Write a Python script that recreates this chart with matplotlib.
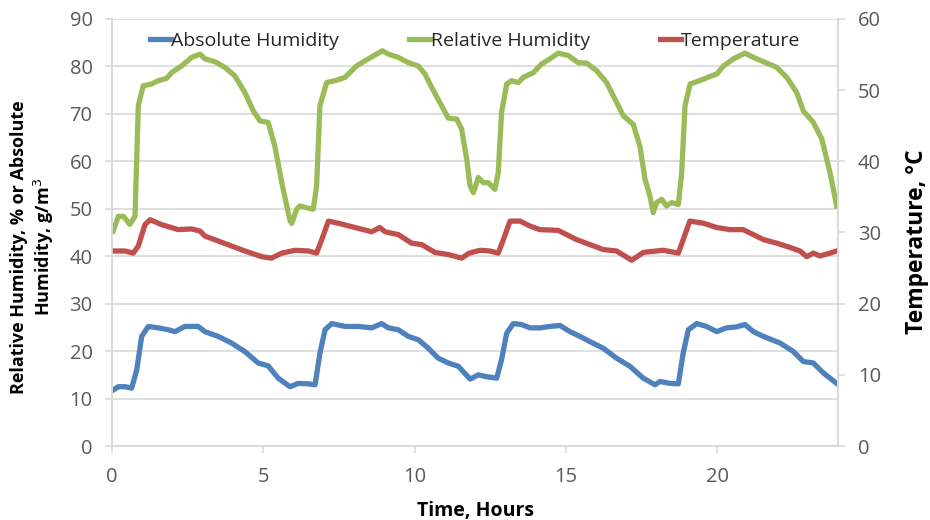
import matplotlib
matplotlib.use("Agg")
import matplotlib.pyplot as plt

plt.rcParams["font.family"] = ["Open Sans", "DejaVu Sans"]

# Relative humidity, %
rh_time = [0.04, 0.21, 0.38, 0.59, 0.76, 0.87, 1.03, 1.31, 1.53, 1.81, 1.97, 2.30,
           2.63, 2.91, 3.07, 3.40, 3.73, 4.06, 4.39, 4.67, 4.89, 5.16, 5.38, 5.61,
           5.88, 5.94, 6.10, 6.21, 6.43, 6.65, 6.76, 6.87, 7.09, 7.37, 7.70, 8.08,
           8.47, 8.93, 9.13, 9.46, 9.79, 10.12, 10.34, 10.56, 10.89, 11.11, 11.39,
           11.55, 11.72, 11.83, 11.94, 12.10, 12.27, 12.43, 12.65, 12.76, 12.87,
           13.04, 13.20, 13.42, 13.59, 13.92, 14.19, 14.47, 14.74, 15.07, 15.40,
           15.68, 16.01, 16.34, 16.67, 16.89, 17.22, 17.44, 17.61, 17.77, 17.88,
           17.99, 18.16, 18.32, 18.49, 18.71, 18.82, 18.93, 19.10, 19.32, 19.54,
           19.76, 19.98, 20.20, 20.53, 20.91, 21.19, 21.63, 21.96, 22.29, 22.62,
           22.84, 23.17, 23.45, 23.72, 23.94]
rh = [45.3, 48.4, 48.4, 46.7, 48.4, 71.7, 75.9, 76.3, 77.0, 77.5, 78.7, 80.1,
      81.9, 82.6, 81.6, 81.0, 79.8, 78.0, 74.5, 70.6, 68.5, 68.2, 63.2, 55.5,
      47.5, 46.9, 49.9, 50.6, 50.2, 49.9, 54.8, 71.7, 76.6, 77.0, 77.7, 80.1,
      81.6, 83.3, 82.6, 81.9, 80.8, 80.1, 78.4, 75.6, 71.7, 69.1, 68.9,
      66.8, 60.4, 54.8, 53.4, 56.6, 55.5, 55.5, 54.1, 57.6, 70.3,
      76.3, 77.0, 76.6, 77.7, 78.7, 80.5, 81.6, 82.8, 82.3, 80.8,
      80.7, 79.1, 76.6, 72.4, 69.6, 67.8, 63.2, 56.2, 52.7, 49.2,
      51.3, 52.0, 50.6, 51.3, 50.9, 57.6, 71.7, 76.3, 76.8, 77.3,
      77.9, 78.4, 80.1, 81.6, 82.8, 81.9, 80.7, 79.8, 77.7, 74.5,
      70.6, 68.2, 64.7, 57.6, 50.6]

# Absolute humidity, g/m3
ah_time = [0.04, 0.21, 0.43, 0.65, 0.82, 0.98, 1.20, 1.53, 1.86, 2.08, 2.41, 2.85,
           3.07, 3.51, 3.95, 4.39, 4.83, 5.16, 5.49, 5.88, 6.15, 6.49, 6.71, 6.87,
           7.04, 7.26, 7.70, 8.14, 8.58, 8.91, 9.13, 9.46, 9.79, 10.12, 10.45,
           10.78, 11.11, 11.44, 11.83, 12.10, 12.38, 12.71, 12.87, 13.04, 13.26,
           13.53, 13.81, 14.14, 14.47, 14.80, 15.13, 15.46, 15.79, 16.23, 16.67,
           17.11, 17.55, 17.94, 18.10, 18.43, 18.71, 18.87, 19.04, 19.32, 19.64,
           19.98, 20.30, 20.63, 20.91, 21.19, 21.52, 22.07, 22.51, 22.84, 23.17,
           23.50, 23.94]
ah = [11.8, 12.5, 12.5, 12.2, 16.1, 23.1, 25.2, 24.9, 24.5, 24.1, 25.2, 25.2,
      24.1, 23.1, 21.7, 19.9, 17.5, 16.9, 14.3, 12.5, 13.2, 13.1, 12.9, 19.6,
      24.5, 25.8, 25.2, 25.2, 24.9, 25.8, 24.9, 24.5, 23.1, 22.4, 20.6,
      18.5, 17.5, 16.8, 14.1, 15.0, 14.6, 14.3, 18.2, 23.8, 25.8,
      25.6, 24.9, 24.9, 25.2, 25.4, 24.1, 23.1, 22.0, 20.6, 18.5,
      16.8, 14.3, 12.9, 13.6, 13.2, 13.1, 19.6, 24.5, 25.8, 25.2,
      24.1, 24.9, 25.1, 25.6, 24.1, 23.1, 21.7, 19.9, 17.8, 17.5,
      15.4, 13.2]

# Temperature, deg C
temp_time = [0.04, 0.43, 0.70, 0.87, 1.09, 1.26, 1.64, 2.19, 2.63, 2.91, 3.07, 3.51,
             3.95, 4.39, 4.95, 5.27, 5.61, 6.05, 6.49, 6.76, 6.93, 7.15, 7.48, 8.03,
             8.58, 8.85, 9.02, 9.46, 9.90, 10.23, 10.67, 11.11, 11.55, 11.80, 12.16,
             12.49, 12.76, 12.93, 13.15, 13.48, 13.81, 14.14, 14.74, 15.02, 15.35,
             15.79, 16.23, 16.67, 17.17, 17.55, 18.21, 18.71, 18.87, 19.09, 19.54,
             19.98, 20.42, 20.85, 21.19, 21.52, 21.96, 22.40, 22.73, 22.95, 23.17,
             23.39, 23.72, 23.94]
temp = [27.4, 27.4, 27.1, 28.1, 31.1, 31.8, 31.1, 30.4, 30.5, 30.2, 29.5, 28.8,
        28.1, 27.4, 26.6, 26.4, 27.1, 27.5, 27.4, 27.1, 29.0, 31.6, 31.3, 30.7,
        30.1, 30.7, 30.1, 29.7, 28.5, 28.3, 27.2, 26.9, 26.4, 27.1, 27.5,
        27.4, 27.1, 29.0, 31.6, 31.6, 30.9, 30.4, 30.3, 29.7, 29.0,
        28.3, 27.6, 27.4, 26.1, 27.2, 27.5, 27.1, 29.0, 31.6, 31.3,
        30.7, 30.4, 30.4, 29.7, 29.0, 28.5, 27.9, 27.4, 26.6, 27.1,
        26.7, 27.1, 27.4]

blue = "#4F81BD"
green = "#9BBB59"
red = "#C0504D"
grid_grey = "#D9D9D9"
tick_grey = "#595959"

fig = plt.figure(figsize=(9.3, 5.2), dpi=100)
ax = fig.add_axes([0.1204, 0.1423, 0.7812, 0.8212])
ax2 = ax.twinx()

l1, = ax.plot(ah_time, ah, color=blue, lw=3.8, label="Absolute Humidity")
l2, = ax.plot(rh_time, rh, color=green, lw=3.8, label="Relative Humidity")
l3, = ax2.plot(temp_time, temp, color=red, lw=3.8, label="Temperature")

ax.set_xlim(0, 24)
ax.set_ylim(0, 90)
ax2.set_ylim(0, 60)
ax.set_xticks([0, 5, 10, 15, 20])
ax.set_yticks(range(0, 91, 10))
ax2.set_yticks(range(0, 61, 10))

ax.grid(axis="y", color=grid_grey, lw=1.2)
ax.set_axisbelow(True)

for a in (ax, ax2):
    a.spines["top"].set_visible(False)
    for side in ("left", "bottom", "right"):
        a.spines[side].set_color(grid_grey)
        a.spines[side].set_linewidth(1.2)
    a.tick_params(colors=grid_grey, labelcolor=tick_grey, labelsize=14.5,
                  length=5, width=1.2)
ax.tick_params(axis="y", pad=9)
ax2.tick_params(axis="y", pad=9)
ax.tick_params(axis="x", pad=10)

ax.set_xlabel("Time, Hours", fontsize=14, fontweight="bold", labelpad=10)
ax.set_ylabel("Relative Humidity, % or Absolute\nHumidity, g/m$^3$",
              fontsize=13, fontweight="bold")
ax.yaxis.set_label_coords(-0.077, 0.466)
ax2.set_ylabel("Temperature, \u00b0C", fontsize=16.5, fontweight="bold")
ax2.yaxis.set_label_coords(1.091, 0.478)

leg = ax.legend(handles=[l1, l2, l3], loc="upper center",
                bbox_to_anchor=(0.5, 1.01), ncol=3, frameon=False,
                fontsize=14, handlelength=1.1, handletextpad=0.0,
                columnspacing=3.6)
for t in leg.get_texts():
    t.set_color("#262626")

fig.savefig("out.png", dpi=100)
